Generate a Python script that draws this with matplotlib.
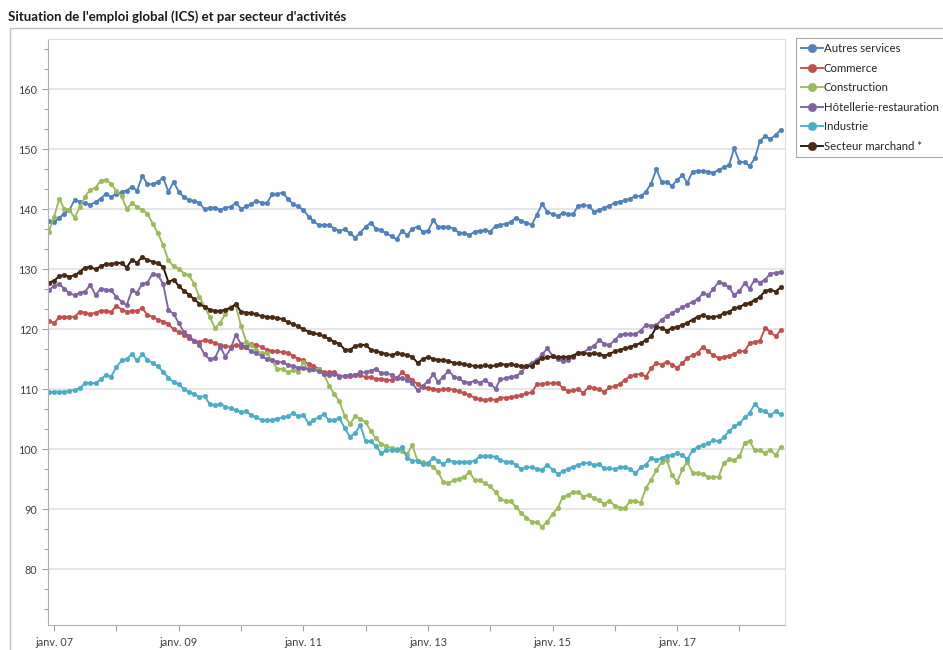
import matplotlib
matplotlib.use("Agg")
import matplotlib.pyplot as plt
import pandas as pd
from matplotlib.patches import Rectangle
from matplotlib.ticker import AutoMinorLocator

plt.rcParams['font.family'] = ['Lato', 'DejaVu Sans']

title = "Situation de l'emploi global (ICS) et par secteur d'activités"
dates = pd.date_range('2006-12-01', periods=142, freq='MS')

labels = ["Autres services", "Commerce", "Construction",
          "Hôtellerie-restauration", "Industrie", "Secteur marchand *"]

autres_services = [
    138.0, 137.9, 138.6, 139.3, 139.9, 141.6, 141.3, 141.0, 140.8, 141.2,
    141.8, 142.6, 142.1, 142.6, 142.9, 143.1, 143.8, 143.1, 145.6, 144.2,
    144.2, 144.6, 145.3, 142.9, 144.6, 142.9, 142.0, 141.6, 141.4, 141.1,
    140.0, 140.3, 140.3, 139.9, 140.3, 140.4, 141.1, 140.1, 140.5, 140.9,
    141.4, 141.1, 141.0, 142.5, 142.5, 142.8, 141.8, 140.9, 140.5, 139.9,
    138.8, 138.0, 137.4, 137.4, 137.4, 136.8, 136.4, 136.7, 136.0, 135.3,
    136.1, 137.1, 137.8, 136.8, 136.5, 136.0, 135.5, 135.0, 136.4, 135.7,
    136.8, 137.1, 136.3, 136.4, 138.2, 137.1, 137.1, 137.1, 136.8, 136.1,
    136.0, 135.7, 136.3, 136.4, 136.5, 136.3, 137.2, 137.4, 137.6, 137.9,
    138.6, 138.1, 137.8, 137.4, 139.1, 140.9, 139.6, 139.2, 138.9, 139.4,
    139.2, 139.2, 140.6, 140.7, 140.6, 139.6, 139.9, 140.3, 140.6, 141.1,
    141.3, 141.5, 141.8, 142.2, 142.2, 142.9, 144.3, 146.7, 144.6, 144.6,
    143.9, 144.9, 145.7, 144.4, 146.3, 146.4, 146.4, 146.3, 146.1, 146.6,
    147.0, 147.4, 150.2, 147.9, 147.9, 147.2, 148.5, 151.4, 152.2, 151.7,
    152.4, 153.3]

commerce = [
    121.4, 121.0, 122.1, 122.0, 122.1, 122.1, 122.9, 122.8, 122.5, 122.8,
    123.1, 123.1, 122.9, 123.9, 123.3, 122.9, 123.1, 123.1, 123.5, 122.4,
    122.1, 121.6, 121.3, 120.9, 120.0, 119.5, 119.1, 118.5, 118.0, 117.9,
    118.2, 118.0, 117.7, 117.4, 117.2, 117.1, 117.4, 117.1, 117.1, 117.6,
    117.4, 117.0, 116.6, 116.4, 116.3, 116.2, 116.1, 115.6, 115.1, 114.8,
    114.2, 113.9, 113.4, 112.8, 112.8, 112.9, 112.2, 112.2, 112.2, 112.3,
    112.4, 112.0, 112.0, 111.7, 111.7, 111.6, 111.5, 111.8, 112.8, 112.2,
    111.5, 110.9, 110.4, 110.2, 110.1, 109.9, 110.0, 110.1, 109.9, 109.7,
    109.3, 109.0, 108.6, 108.3, 108.2, 108.4, 108.2, 108.6, 108.6, 108.7,
    108.8, 109.0, 109.3, 109.5, 110.8, 110.9, 111.0, 111.0, 111.1, 110.2,
    109.7, 109.8, 110.0, 109.4, 110.4, 110.2, 110.0, 109.6, 110.3, 110.5,
    110.9, 111.6, 112.2, 112.4, 112.6, 112.1, 113.5, 114.4, 114.1, 114.6,
    114.1, 113.6, 114.4, 115.2, 115.7, 116.1, 117.1, 116.3, 115.7, 115.2,
    115.4, 115.6, 115.9, 116.4, 116.3, 117.7, 117.9, 118.1, 120.2, 119.6,
    118.8, 119.9]

construction = [
    136.3, 138.8, 141.8, 140.0, 139.9, 138.6, 140.4, 142.1, 143.3, 143.6,
    144.8, 144.9, 144.2, 143.1, 142.2, 140.1, 141.0, 140.4, 139.9, 139.3,
    137.6, 136.0, 134.0, 131.5, 130.5, 130.1, 129.3, 129.0, 127.6, 125.4,
    123.8, 122.1, 120.2, 121.1, 122.6, 123.8, 124.0, 120.5, 117.9, 117.3,
    116.6, 116.0, 116.1, 114.8, 113.4, 113.4, 112.8, 113.2, 112.8, 114.6,
    113.2, 113.3, 113.3, 112.5, 110.6, 109.2, 108.0, 105.5, 104.2, 105.5,
    105.1, 104.5, 103.0, 101.8, 100.9, 100.5, 100.2, 100.0, 99.7, 99.2,
    100.7, 98.0, 97.8, 97.5, 97.1, 96.2, 94.5, 94.4, 94.8, 95.1,
    95.4, 96.2, 94.9, 94.8, 94.3, 93.8, 92.9, 91.7, 91.4, 91.3,
    90.4, 89.4, 88.6, 87.9, 87.8, 87.1, 87.9, 89.2, 90.2, 92.0,
    92.4, 92.8, 92.9, 92.1, 92.4, 91.8, 91.5, 90.9, 91.4, 90.6,
    90.2, 90.2, 91.4, 91.4, 91.1, 93.5, 94.9, 96.5, 97.9, 98.2,
    95.7, 94.6, 96.7, 97.9, 96.1, 96.0, 95.9, 95.4, 95.3, 95.4,
    97.7, 98.3, 98.2, 98.8, 101.1, 101.4, 99.8, 99.8, 99.4, 99.9,
    99.0, 100.4]

hotellerie = [
    126.6, 127.2, 127.5, 126.8, 126.0, 125.7, 126.1, 126.3, 127.4, 125.7,
    126.8, 126.6, 126.5, 125.4, 124.6, 124.0, 126.5, 126.1, 127.6, 127.8,
    129.3, 129.0, 127.6, 123.2, 122.6, 121.0, 119.5, 118.9, 118.1, 117.4,
    115.8, 115.0, 115.2, 117.1, 115.4, 116.8, 119.1, 117.5, 117.0, 116.3,
    116.0, 115.6, 115.0, 114.8, 114.6, 114.5, 114.1, 113.9, 113.6, 113.5,
    113.3, 113.3, 113.0, 112.5, 112.3, 112.6, 112.1, 112.2, 112.4, 112.4,
    112.8, 112.8, 113.1, 113.4, 112.7, 112.7, 112.4, 111.8, 111.9, 111.5,
    111.0, 109.8, 110.6, 111.3, 112.5, 111.2, 112.1, 113.1, 112.1, 111.8,
    111.2, 111.1, 111.4, 111.1, 111.5, 110.9, 110.1, 111.7, 111.8, 112.1,
    112.2, 112.8, 113.9, 114.4, 114.9, 115.8, 116.8, 115.6, 115.0, 114.7,
    114.9, 115.4, 116.0, 116.1, 116.8, 117.2, 118.2, 117.6, 117.4, 118.2,
    119.1, 119.2, 119.2, 119.2, 119.8, 120.7, 120.6, 120.7, 121.6, 122.2,
    122.7, 123.2, 123.7, 124.1, 124.6, 125.0, 126.0, 125.7, 126.7, 127.9,
    127.6, 127.0, 125.7, 126.4, 127.7, 126.8, 128.3, 127.8, 128.3, 129.3,
    129.4, 129.6]

industrie = [
    109.5, 109.6, 109.6, 109.6, 109.7, 109.9, 110.2, 111.0, 111.1, 111.0,
    111.7, 112.4, 112.1, 113.7, 114.8, 115.0, 115.9, 114.8, 115.9, 114.9,
    114.4, 113.8, 112.9, 111.9, 111.2, 110.8, 110.0, 109.6, 109.2, 108.7,
    108.9, 107.5, 107.3, 107.6, 107.1, 106.8, 106.5, 106.2, 106.3, 105.7,
    105.3, 104.9, 104.8, 104.9, 105.1, 105.3, 105.5, 106.0, 105.5, 105.7,
    104.3, 104.9, 105.3, 105.9, 104.8, 104.8, 105.2, 103.5, 102.1, 102.7,
    104.0, 101.3, 101.3, 100.5, 99.4, 99.8, 99.8, 99.8, 100.3, 98.6,
    98.1, 98.1, 97.5, 97.7, 98.6, 98.1, 97.5, 98.2, 97.9, 97.9,
    97.9, 97.9, 98.1, 98.8, 98.9, 98.9, 98.7, 98.2, 97.9, 97.9,
    97.4, 96.7, 97.0, 97.0, 96.7, 96.6, 97.4, 96.6, 95.9, 96.3,
    96.7, 97.1, 97.4, 97.7, 97.7, 97.4, 97.5, 96.8, 96.8, 96.7,
    97.0, 97.0, 96.7, 96.0, 97.0, 97.4, 98.5, 98.2, 98.5, 98.9,
    99.0, 99.3, 99.0, 98.3, 99.8, 100.4, 100.7, 101.0, 101.5, 101.3,
    102.0, 103.0, 103.8, 104.3, 105.3, 106.0, 107.6, 106.6, 106.3, 105.7,
    106.3, 105.8]

secteur_marchand = [
    127.8, 128.1, 128.9, 129.0, 128.8, 129.0, 129.6, 130.3, 130.4, 130.0,
    130.5, 130.9, 130.9, 131.0, 131.1, 130.3, 131.6, 131.1, 132.1, 131.5,
    131.3, 131.0, 130.4, 127.9, 128.3, 127.2, 126.4, 125.8, 125.0, 124.3,
    123.7, 123.3, 123.1, 123.0, 123.3, 123.6, 124.2, 122.9, 122.8, 122.7,
    122.5, 122.2, 122.1, 122.0, 121.9, 121.7, 121.2, 120.9, 120.5, 120.0,
    119.6, 119.3, 119.2, 118.8, 118.4, 117.9, 117.6, 116.6, 116.6, 117.2,
    117.4, 117.4, 116.6, 116.4, 116.1, 115.9, 115.7, 116.0, 115.9, 115.7,
    115.4, 114.4, 115.0, 115.4, 115.1, 114.9, 114.9, 114.7, 114.4, 114.3,
    114.2, 114.0, 113.9, 113.8, 114.0, 113.8, 114.0, 114.2, 114.1, 114.2,
    114.0, 113.9, 113.8, 113.9, 114.6, 115.2, 115.3, 115.5, 115.3, 115.4,
    115.4, 115.6, 116.1, 116.1, 115.9, 116.0, 115.9, 115.6, 115.9, 116.3,
    116.6, 116.8, 117.1, 117.4, 117.7, 118.2, 118.8, 120.4, 120.2, 119.8,
    120.2, 120.4, 120.7, 121.1, 121.6, 122.1, 122.4, 122.0, 122.1, 122.2,
    122.7, 122.9, 123.5, 123.7, 124.2, 124.4, 124.9, 125.4, 126.4, 126.6,
    126.3, 127.0]

series = [autres_services, commerce, construction, hotellerie, industrie, secteur_marchand]
line_colors = ['#4F81BD', '#C0504D', '#9BBB59', '#8064A2', '#4BACC6', '#1E120A']
marker_colors = ['#4F81BD', '#C0504D', '#9BBB59', '#8064A2', '#4BACC6', '#4A2A12']

x_tick_years = [2007, 2009, 2011, 2013, 2015, 2017]
x_tick_labels = ["janv. 07", "janv. 09", "janv. 11", "janv. 13", "janv. 15", "janv. 17"]
x_minor_years = [2008, 2010, 2012, 2014, 2016, 2018]
y_ticks = [80, 90, 100, 110, 120, 130, 140, 150, 160]

W, H = 943, 650
fig = plt.figure(figsize=(W / 100, H / 100), dpi=100)
fig.patch.set_facecolor('white')

# outer panel frame (right side runs off the image)
fig.add_artist(Rectangle((10 / W, -0.01), 1.0, (H - 28) / H + 0.01,
                         transform=fig.transFigure, fill=False,
                         edgecolor='#c0c0c0', linewidth=1.0))
fig.text(8 / W, 1 - 17 / H, title, fontsize=9.5, fontweight='bold',
         color='#1a1a1a', va='center', ha='left')

left, right, top, bottom = 48, 785, 39, 625
ax = fig.add_axes([left / W, 1 - bottom / H, (right - left) / W, (bottom - top) / H])

for vals, lab, lc, mc in zip(series, labels, line_colors, marker_colors):
    ax.plot(dates, vals, color=lc, linewidth=1.35, marker='o', markersize=3.4,
            markerfacecolor=mc, markeredgecolor=mc, markeredgewidth=0.3, label=lab)

ax.set_ylim(70.7, 168.4)
ax.set_xlim(pd.Timestamp('2006-11-26'), pd.Timestamp('2018-09-25'))
ax.set_yticks(y_ticks)
ax.set_yticklabels([str(v) for v in y_ticks])
ax.yaxis.set_minor_locator(AutoMinorLocator(3))
ax.set_xticks([pd.Timestamp(f'{y}-01-01') for y in x_tick_years])
ax.set_xticklabels(x_tick_labels)
ax.set_xticks([pd.Timestamp(f'{y}-01-01') for y in x_minor_years], minor=True)

ax.grid(axis='y', which='major', color='#e2e2e2', linewidth=1.2)
ax.set_axisbelow(True)
for s in ['top', 'right']:
    ax.spines[s].set_color('#dcdcdc')
for s in ['left', 'bottom']:
    ax.spines[s].set_color('#b0b0b0')
ax.tick_params(axis='both', which='both', colors='#a0a0a0', labelcolor='#404040',
               labelsize=7.8, length=4, width=0.8)
ax.tick_params(axis='y', which='minor', length=3)
ax.tick_params(axis='x', which='major', pad=5)

leg = ax.legend(loc='upper left', bbox_to_anchor=(796 / W, 1 - 38 / H),
                bbox_transform=fig.transFigure, fontsize=8.2, frameon=True,
                fancybox=False, edgecolor='#a8a8a8', framealpha=1,
                handlelength=1.9, handletextpad=0.1, labelspacing=0.75,
                borderpad=0.45, markerscale=1.8, borderaxespad=0)
leg.get_frame().set_linewidth(0.8)
for t in leg.get_texts():
    t.set_color('#262626')

fig.savefig('out.png', dpi=100)
